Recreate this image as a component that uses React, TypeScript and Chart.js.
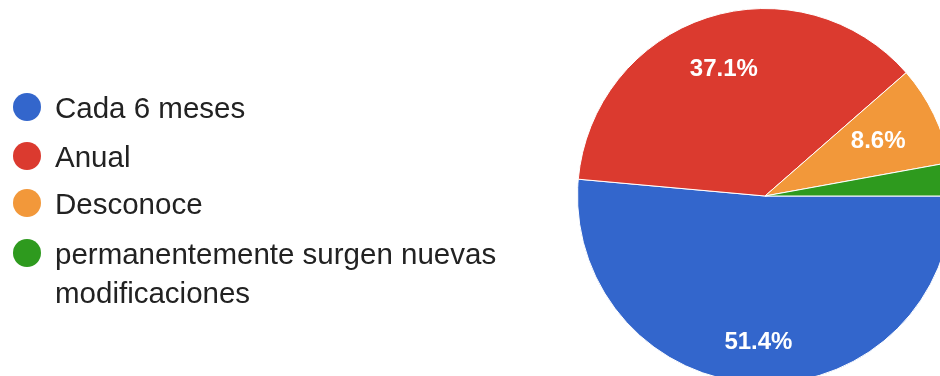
import React, { useEffect, useRef } from "react";
import { Chart, registerables } from "chart.js";

Chart.register(...registerables);

const categories = [
  "Cada 6 meses",
  "Anual",
  "Desconoce",
  "permanentemente surgen nuevas modificaciones",
];
const legendLines = [
  ["Cada 6 meses"],
  ["Anual"],
  ["Desconoce"],
  ["permanentemente surgen nuevas", "modificaciones"],
];
const values = [18, 13, 3, 1];
const colors = ["#3366CC", "#DB3A2F", "#F2983A", "#2E9A1E"];

// label placement as fraction of radius (style)
const labelRadiusFrac = [0.78, 0.71, 0.67, 0.7];
const FONT = "'Liberation Sans', Arial, Helvetica, sans-serif";

const pctLabels = {
  id: "pctLabels",
  afterDatasetsDraw(chart: any) {
    const ctx = chart.ctx;
    const meta = chart.getDatasetMeta(0);
    const data = chart.data.datasets[0].data as number[];
    const total = data.reduce((a, b) => a + b, 0);
    ctx.save();
    ctx.fillStyle = "#ffffff";
    ctx.font = `bold 24px ${FONT}`;
    ctx.textAlign = "center";
    ctx.textBaseline = "middle";
    meta.data.forEach((arc: any, i: number) => {
      const p = (data[i] / total) * 100;
      if (p < 5) return;
      const { x, y, startAngle, endAngle, outerRadius } = arc.getProps(
        ["x", "y", "startAngle", "endAngle", "outerRadius"],
        true
      );
      const mid = (startAngle + endAngle) / 2;
      const r = outerRadius * labelRadiusFrac[i];
      ctx.fillText(p.toFixed(1) + "%", x + Math.cos(mid) * r, y + Math.sin(mid) * r);
    });
    ctx.restore();
  },
};

export default function App() {
  const ref = useRef<HTMLCanvasElement>(null);
  useEffect(() => {
    if (!ref.current) return;
    const chart = new Chart(ref.current, {
      type: "pie",
      data: {
        labels: categories,
        datasets: [
          {
            data: values,
            backgroundColor: colors,
            borderColor: "#ffffff",
            borderWidth: 1,
          },
        ],
      },
      options: {
        responsive: false,
        animation: false,
        devicePixelRatio: 1,
        rotation: 90,
        layout: { padding: { left: 577, right: 47, top: 8, bottom: 16 } },
        plugins: {
          legend: { display: false },
          tooltip: { enabled: false },
        },
      },
      plugins: [pctLabels],
    });
    return () => chart.destroy();
  }, []);

  const cys = [107, 156, 203, 253];
  return (
    <div
      style={{
        position: "fixed",
        left: 0,
        top: 0,
        width: 940,
        height: 376,
        overflow: "hidden",
        background: "#ffffff",
      }}
    >
      <canvas
        ref={ref}
        width={1000}
        height={400}
        style={{ position: "absolute", left: 0, top: 0, width: 1000, height: 400 }}
      />
      {legendLines.map((lines, i) => (
        <div key={i}>
          <div
            style={{
              position: "absolute",
              left: 13,
              top: cys[i] - 14,
              width: 28,
              height: 28,
              borderRadius: "50%",
              background: colors[i],
            }}
          />
          <div
            style={{
              position: "absolute",
              left: 55,
              top: cys[i] - 19.5,
              fontFamily: FONT,
              fontSize: 29.5,
              lineHeight: "39px",
              color: "#222222",
              whiteSpace: "nowrap",
            }}
          >
            {lines.map((l, j) => (
              <div key={j}>{l}</div>
            ))}
          </div>
        </div>
      ))}
    </div>
  );
}
